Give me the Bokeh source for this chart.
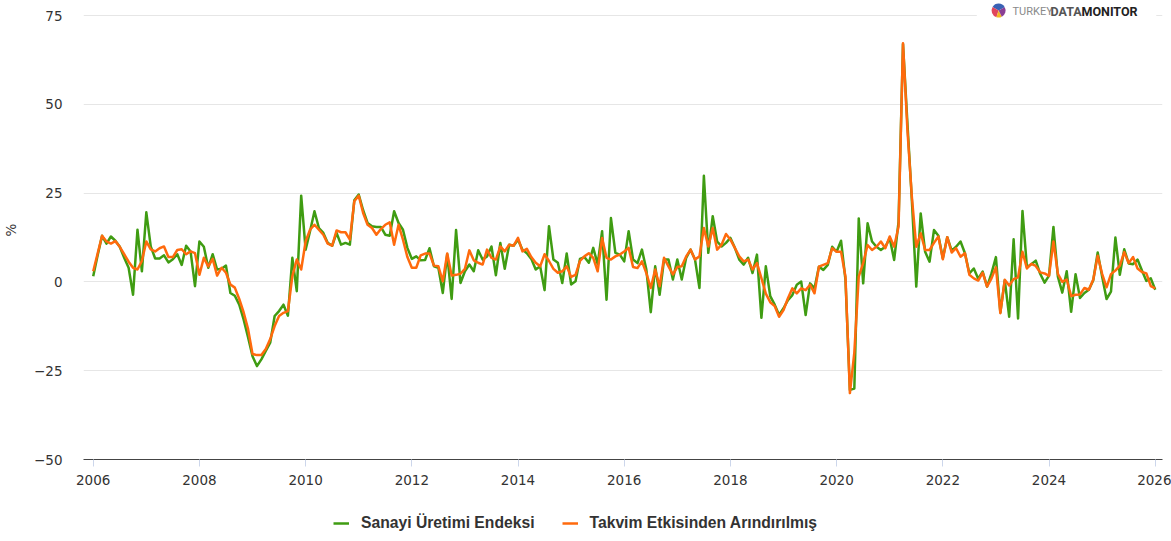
from bokeh.plotting import figure
from bokeh.layouts import column
from bokeh.models import FixedTicker, Legend, LegendItem, Label, Range1d
from bokeh.embed import file_html
from bokeh.resources import INLINE

# Monthly year-on-year change (%), Jan 2006 - Jan 2026
sanayi = [
    1.6, 7.5, 13.0, 10.8, 12.8, 11.6, 9.9, 6.8, 4.0, -3.6, 14.7, 3.0,        # 2006
    19.6, 10.0, 6.6, 6.6, 7.5, 5.5, 6.4, 7.8, 4.8, 10.2, 8.6, -1.2,          # 2007
    11.4, 9.9, 4.0, 7.8, 3.5, 3.7, 4.6, -3.1, -3.9, -6.4, -10.6, -15.6,      # 2008
    -20.9, -23.7, -21.8, -19.4, -17.1, -9.6, -8.2, -6.4, -9.5, 6.8, -2.6, 24.3,  # 2009
    9.1, 14.3, 19.9, 15.2, 13.8, 11.0, 10.2, 13.8, 10.5, 11.0, 10.5, 23.0,   # 2010
    24.6, 20.2, 16.6, 15.7, 15.5, 15.5, 13.3, 13.0, 19.9, 16.6, 14.7, 9.6,   # 2011
    6.5, 7.2, 6.1, 6.2, 9.5, 4.4, 4.0, -3.1, 7.8, -4.8, 14.6, -0.3,          # 2012
    3.0, 4.9, 3.0, 8.9, 6.3, 7.2, 10.0, 1.9, 11.0, 3.7, 10.5, 10.2,          # 2013
    11.9, 9.1, 8.1, 6.5, 3.5, 4.4, -2.3, 15.7, 6.3, 5.4, -0.3, 8.0,          # 2014
    -0.7, 0.2, 6.5, 7.0, 5.4, 9.6, 5.0, 14.3, -5.0, 18.0, 8.2, 7.7,          # 2015
    5.8, 14.3, 6.3, 5.3, 9.1, 3.5, -8.5, 4.4, -3.6, 6.3, 6.3, 0.7,           # 2016
    6.3, 0.7, 6.8, 9.1, 6.3, -1.7, 29.9, 8.2, 18.5, 11.4, 10.0, 11.0,        # 2017
    12.4, 9.6, 6.3, 4.9, 6.8, 2.5, 7.7, -10.1, 4.4, -4.0, -6.4, -9.3,        # 2018
    -7.4, -5.1, -3.7, -0.8, 0.1, -9.3, -0.4, -1.8, 4.3, 3.4, 4.8, 9.9,       # 2019
    8.5, 11.6, 0.6, -30.4, -30.0, 17.9, -0.4, 16.5, 11.4, 9.9, 9.0, 9.9,     # 2020
    12.3, 6.2, 17.0, 67.0, 44.7, 23.1, -1.3, 19.3, 8.5, 5.7, 14.6, 13.0,     # 2021
    6.7, 12.6, 8.8, 9.9, 11.4, 8.1, 2.4, 3.8, 0.9, 2.9, -1.3, 2.4,           # 2022
    7.0, -8.6, 0.5, -9.8, 12.0, -10.3, 20.0, 4.2, 5.0, 6.0, 2.3, -0.2,       # 2023
    1.8, 15.5, 1.5, -3.0, 3.0, -8.4, 2.2, -4.5, -3.1, -2.2, 0.5, 8.3,        # 2024
    1.5, -4.8, -2.7, 12.5, 2.0, 9.2, 5.2, 5.0, 6.3, 3.2, 0.3, 1.0,           # 2025
    -2.2,                                                                    # 2026
]

takvim = [
    3.0, 8.0, 13.0, 11.4, 10.8, 11.5, 9.9, 7.8, 5.7, 4.0, 3.5, 5.9,          # 2006
    11.4, 9.2, 8.6, 9.5, 10.0, 7.0, 7.0, 9.0, 9.2, 7.8, 8.6, 8.1,            # 2007
    2.0, 6.8, 4.4, 6.5, 1.8, 4.0, 2.6, -0.7, -1.6, -4.8, -8.6, -13.3,        # 2008
    -20.3, -20.6, -20.6, -18.9, -16.1, -12.4, -9.6, -8.7, -8.2, 1.6, 6.3, 3.5,  # 2009
    11.4, 14.7, 16.1, 14.7, 13.3, 10.8, 10.2, 14.5, 14.0, 14.0, 11.9, 22.7,  # 2010
    24.3, 19.4, 16.1, 15.2, 13.3, 14.9, 16.1, 16.8, 10.5, 16.1, 11.9, 7.0,   # 2011
    4.0, 4.0, 7.5, 8.0, 8.0, 4.6, 4.4, 0.2, 8.0, 1.8, 2.0, 2.3,              # 2012
    3.7, 8.9, 6.1, 5.4, 4.9, 9.1, 6.8, 6.3, 10.0, 8.6, 10.5, 10.2,           # 2013
    12.4, 8.6, 9.3, 7.0, 5.4, 4.4, 7.8, 5.9, 3.7, 2.6, 3.0, 4.4,             # 2014
    1.4, 2.0, 5.9, 7.2, 8.1, 6.8, 3.0, 12.4, 6.8, 6.3, 7.2, 7.7,             # 2015
    8.6, 9.6, 4.2, 3.9, 5.8, 2.5, -1.7, 3.5, -1.2, 6.8, 4.4, 2.1,            # 2016
    4.2, 4.4, 7.2, 9.1, 6.3, 7.2, 15.2, 10.0, 15.2, 9.1, 10.5, 13.5,         # 2017
    11.9, 9.6, 7.2, 5.8, 6.3, 3.5, 5.3, 1.1, -3.3, -5.7, -6.8, -9.8,         # 2018
    -7.9, -4.6, -1.8, -3.2, -1.8, -2.3, -0.8, -3.2, 4.3, 4.8, 5.3, 9.5,      # 2019
    8.5, 8.5, 1.5, -31.3, -19.9, 1.5, 5.3, 10.4, 9.0, 9.9, 11.4, 9.5,        # 2020
    12.8, 9.9, 15.6, 67.2, 42.8, 24.0, 9.9, 13.7, 9.0, 9.0, 11.0, 12.8,      # 2021
    6.4, 12.6, 8.3, 9.5, 7.1, 8.1, 2.0, 1.0, 0.4, 2.6, -1.3, 1.0,            # 2022
    4.1, -8.8, 0.6, -1.0, 0.8, 1.3, 8.5, 3.8, 5.1, 4.5, 2.7, 2.4,            # 2023
    1.7, 11.4, 2.3, 0.0, 0.7, -4.0, -3.6, -3.5, -1.7, -2.2, 0.7, 7.4,        # 2024
    2.3, -1.5, 2.2, 3.2, 4.6, 8.4, 5.3, 7.0, 3.8, 2.8, 2.4, -1.2,            # 2025
    -1.8,                                                                    # 2026
]

start_year = 2006
dates = [start_year + i / 12 for i in range(len(sanayi))]

year_ticks = list(range(2006, 2027, 2))
y_ticks = [-50, -25, 0, 25, 50, 75]
y_labels = {-50: "\u221250", -25: "\u221225"}

series_names = ["Sanayi Üretimi Endeksi", "Takvim Etkisinden Arındırılmış"]
series_colors = ["#3f9c12", "#ff6a0d"]

W = 1171
p = figure(width=W, height=505, output_backend="svg", toolbar_location=None,
           title=None,
           x_range=Range1d(2005.817, 2026.137), y_range=Range1d(-50, 79.26),
           min_border_left=83, min_border_right=9, min_border_top=0,
           min_border_bottom=46)
p.outline_line_color = None
p.background_fill_color = "white"
p.border_fill_color = "white"

# axes
p.xaxis.ticker = FixedTicker(ticks=year_ticks)
p.xaxis.axis_line_color = "#444444"
p.xaxis.axis_line_width = 1
p.xaxis.major_tick_line_color = "#ccd6eb"
p.xaxis.major_tick_out = 7
p.xaxis.major_tick_in = 0
p.xaxis.minor_tick_line_color = None
p.xaxis.major_label_standoff = 8
p.xaxis.major_label_text_font = "DejaVu Sans"
p.xaxis.major_label_text_font_size = "13.5px"
p.xaxis.major_label_text_color = "#333333"

p.yaxis.ticker = FixedTicker(ticks=y_ticks)
p.yaxis.major_label_overrides = y_labels
p.yaxis.axis_line_color = None
p.yaxis.major_tick_line_color = None
p.yaxis.minor_tick_line_color = None
p.yaxis.major_tick_out = 0
p.yaxis.major_label_standoff = 21
p.yaxis.major_label_text_font = "DejaVu Sans"
p.yaxis.major_label_text_font_size = "13.5px"
p.yaxis.major_label_text_color = "#333333"
p.yaxis.axis_label = "%"
p.yaxis.axis_label_text_font = "DejaVu Sans"
p.yaxis.axis_label_text_font_style = "normal"
p.yaxis.axis_label_text_font_size = "13.5px"
p.yaxis.axis_label_text_color = "#333333"
p.yaxis.axis_label_standoff = 12

p.xgrid.grid_line_color = None
p.ygrid.grid_line_color = "#e6e6e6"
p.ygrid.grid_line_width = 1

# logo background (covers the top grid line) and icon
p.quad(left=[2022.64], right=[2026.02], bottom=[73.8], top=[79.26],
       fill_color="white", line_color=None)
icon_x = 2023.05
icon_y = 76.44
p.wedge(x=[icon_x] * 4, y=[icon_y] * 4, radius=7, radius_units="screen",
        start_angle=[0.5, 2.6, 4.4, 5.2], end_angle=[2.6, 4.4, 5.2, 6.78],
        start_angle_units="rad", end_angle_units="rad",
        fill_color=["#3a62b5", "#e0465c", "#f2b823", "#8a3f94"], line_color=None)

r1 = p.line(dates, sanayi, line_color=series_colors[0], line_width=2.5,
            line_join="round")
r2 = p.line(dates, takvim, line_color=series_colors[1], line_width=2.5,
            line_join="round")

logo_parts = [("TURKEY", 929, "11px", "normal", "#8a8a8a"),
              ("DATA", 967, "12.5px", "bold", "#555555"),
              ("MONITOR", 998, "12.5px", "bold", "#222222")]
for txt, xs, fs, style, col in logo_parts:
    p.add_layout(Label(x=xs, y=448, x_units="screen", y_units="screen",
                       text=txt, text_font="Roboto", text_font_size=fs,
                       text_font_style=style, text_color=col,
                       text_baseline="middle", text_align="left"))

# legend strip below the chart (its frame is aligned with the chart frame)
lg = figure(width=W, height=36, output_backend="svg", toolbar_location=None,
            title=None, x_axis_type=None, y_axis_type=None,
            x_range=Range1d(0, 1), y_range=Range1d(0, 1), min_border=0)
lg.outline_line_color = None
lg.background_fill_color = "white"
lg.border_fill_color = "white"
# legend proxies, kept outside the visible range
g1 = lg.line(x=[0, 1], y=[5, 5], line_color=series_colors[0], line_width=2.5)
g2 = lg.line(x=[0, 1], y=[5, 5], line_color=series_colors[1], line_width=2.5)
legend = Legend(items=[LegendItem(label=series_names[0], renderers=[g1]),
                       LegendItem(label=series_names[1], renderers=[g2])],
                location=(250, 9), orientation="horizontal",
                glyph_width=16, glyph_height=16, label_height=16,
                label_standoff=12, spacing=27, padding=0, margin=0,
                border_line_color=None, background_fill_alpha=0,
                label_text_font="Liberation Sans", label_text_font_size="15.7px",
                label_text_font_style="bold", label_text_color="#333333")
lg.add_layout(legend)

layout = column(p, lg, spacing=0)
open("out.html", "w").write(file_html(layout, INLINE))
